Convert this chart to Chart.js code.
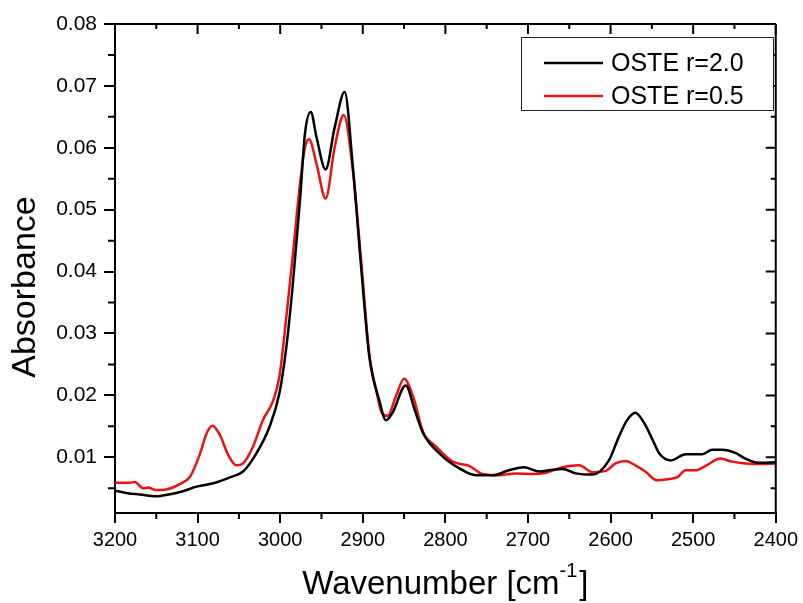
<!DOCTYPE html>
<html>
<head>
<meta charset="utf-8">
<script src="https://cdn.jsdelivr.net/npm/chart.js@4.4.1/dist/chart.umd.min.js"></script>
<style>
  html, body { margin: 0; padding: 0; background: #fff; }
  #wrap { width: 803px; height: 603px; }
</style>
</head>
<body>
<div id="wrap"><canvas id="c" width="803" height="603"></canvas></div>
<script>
// ---- data ----
const seriesLabels = ['OSTE r=2.0', 'OSTE r=0.5'];

const blackX = [3200, 3185, 3170, 3150, 3135, 3121, 3100, 3081, 3060, 3045, 3029, 3013, 3001, 2993, 2985, 2976, 2970, 2963, 2956, 2945, 2934, 2922, 2912, 2902, 2892, 2880, 2872, 2864, 2848, 2837, 2827, 2807, 2783, 2763, 2743, 2723, 2705, 2686, 2670, 2658, 2642, 2622, 2602, 2590, 2580, 2570, 2560, 2549, 2541, 2527, 2509, 2489, 2477, 2465, 2449, 2437, 2421, 2400];
const blackY = [0.0046, 0.0042, 0.0040, 0.0037, 0.0040, 0.0044, 0.0053, 0.0058, 0.0068, 0.0077, 0.0106, 0.0149, 0.0203, 0.0273, 0.0375, 0.0515, 0.0623, 0.0658, 0.0617, 0.0565, 0.0633, 0.0690, 0.0569, 0.0407, 0.0262, 0.0192, 0.0160, 0.0172, 0.0216, 0.0176, 0.0139, 0.0106, 0.0082, 0.0071, 0.0071, 0.0079, 0.0084, 0.0077, 0.0080, 0.0081, 0.0074, 0.0072, 0.0095, 0.0133, 0.0160, 0.0172, 0.0157, 0.0128, 0.0106, 0.0095, 0.0105, 0.0105, 0.0112, 0.0112, 0.0107, 0.0098, 0.0091, 0.0092];

const redX = [3200, 3182, 3176, 3166, 3160, 3150, 3138, 3121, 3109, 3097, 3089, 3082, 3073, 3063, 3053, 3045, 3033, 3021, 3009, 3001, 2993, 2985, 2976, 2970, 2965, 2956, 2945, 2934, 2923, 2912, 2902, 2892, 2884, 2877, 2870, 2860, 2850, 2839, 2827, 2811, 2791, 2771, 2755, 2735, 2715, 2694, 2678, 2658, 2638, 2622, 2606, 2594, 2582, 2570, 2558, 2544, 2529, 2519, 2509, 2497, 2485, 2467, 2453, 2437, 2417, 2400];
const redY = [0.0059, 0.0059, 0.0060, 0.0050, 0.0051, 0.0047, 0.0048, 0.0057, 0.0069, 0.0106, 0.0139, 0.0151, 0.0136, 0.0104, 0.0087, 0.0090, 0.0117, 0.0160, 0.0190, 0.0230, 0.0321, 0.0423, 0.0542, 0.0601, 0.0614, 0.0574, 0.0518, 0.0601, 0.0653, 0.0563, 0.0418, 0.0265, 0.0210, 0.0172, 0.0167, 0.0198, 0.0227, 0.0198, 0.0141, 0.0117, 0.0093, 0.0086, 0.0073, 0.0071, 0.0074, 0.0073, 0.0075, 0.0084, 0.0087, 0.0076, 0.0078, 0.0090, 0.0094, 0.0087, 0.0077, 0.0063, 0.0065, 0.0068, 0.0079, 0.0079, 0.0086, 0.0098, 0.0093, 0.0090, 0.0089, 0.0090];

const yTickValues = [0.01, 0.02, 0.03, 0.04, 0.05, 0.06, 0.07, 0.08];
const yMinorValues = [0.005, 0.015, 0.025, 0.035, 0.045, 0.055, 0.065, 0.075];
const xTickValues = [3200, 3100, 3000, 2900, 2800, 2700, 2600, 2500, 2400];
const xMinorValues = [3150, 3050, 2950, 2850, 2750, 2650, 2550, 2450];
const xTitleMain = 'Wavenumber [cm';
const xTitleSup = '-1';
const xTitleEnd = ']';
const yTitle = 'Absorbance';

const FONT = '"Liberation Sans", Arial, sans-serif';

const toPts = (xs, ys) => xs.map((x, i) => ({ x: x, y: ys[i] }));

const frame = {
  id: 'frame',
  afterDraw(chart) {
    const ctx = chart.ctx;
    const a = chart.chartArea;
    const xs = chart.scales.x, ys = chart.scales.y;
    ctx.save();
    ctx.strokeStyle = '#000';
    ctx.lineWidth = 2;
    ctx.lineCap = 'butt';
    // top and right frame lines
    ctx.beginPath();
    ctx.moveTo(a.left - 1, a.top); ctx.lineTo(a.right, a.top);
    ctx.moveTo(a.right, a.top); ctx.lineTo(a.right, a.bottom + 1);
    ctx.stroke();
    ctx.beginPath();
    // top inward major ticks
    xTickValues.forEach(v => { const p = xs.getPixelForValue(v); ctx.moveTo(p, a.top); ctx.lineTo(p, a.top + 10); });
    // minor x ticks: bottom outward, top inward
    xMinorValues.forEach(v => {
      const p = xs.getPixelForValue(v);
      ctx.moveTo(p, a.bottom); ctx.lineTo(p, a.bottom + 6);
      ctx.moveTo(p, a.top); ctx.lineTo(p, a.top + 5);
    });
    // right inward major ticks
    yTickValues.forEach(v => { const p = ys.getPixelForValue(v); ctx.moveTo(a.right, p); ctx.lineTo(a.right - 10, p); });
    // minor y ticks: left outward, right inward
    yMinorValues.forEach(v => {
      const p = ys.getPixelForValue(v);
      ctx.moveTo(a.left, p); ctx.lineTo(a.left - 7, p);
      ctx.moveTo(a.right, p); ctx.lineTo(a.right - 5, p);
    });
    ctx.stroke();

    // legend box
    const lx = 521, ly = 37, lw = 252, lh = 73;
    ctx.fillStyle = '#fff';
    ctx.fillRect(lx, ly, lw, lh);
    ctx.lineWidth = 1;
    ctx.strokeStyle = '#222';
    ctx.strokeRect(lx + 0.5, ly + 0.5, lw, lh);
    ctx.font = '25px ' + FONT;
    ctx.textAlign = 'left';
    ctx.textBaseline = 'middle';
    chart.data.datasets.forEach((ds, i) => {
      const yy = 63 + i * 33;
      ctx.strokeStyle = ds.borderColor;
      ctx.lineWidth = 2.5;
      ctx.beginPath(); ctx.moveTo(544, yy); ctx.lineTo(603, yy); ctx.stroke();
      ctx.fillStyle = '#000';
      ctx.fillText(ds.label, 611, yy + 1);
    });

    // axis titles
    ctx.fillStyle = '#000';
    ctx.textBaseline = 'alphabetic';
    ctx.font = '33px ' + FONT;
    const wMain = ctx.measureText(xTitleMain).width;
    ctx.font = '20px ' + FONT;
    const wSup = ctx.measureText(xTitleSup).width;
    ctx.font = '33px ' + FONT;
    const wEnd = ctx.measureText(xTitleEnd).width;
    const total = wMain + wSup + 2 + wEnd;
    let tx = (a.left + a.right) / 2 - total / 2;
    const base = 594;
    ctx.textAlign = 'left';
    ctx.fillText(xTitleMain, tx, base);
    tx += wMain;
    ctx.font = '20px ' + FONT;
    ctx.fillText(xTitleSup, tx, base - 17);
    tx += wSup + 2;
    ctx.font = '33px ' + FONT;
    ctx.fillText(xTitleEnd, tx, base);

    ctx.save();
    ctx.translate(35, 287);
    ctx.rotate(-Math.PI / 2);
    ctx.textAlign = 'center';
    ctx.font = '34px ' + FONT;
    ctx.fillText(yTitle, 0, 0);
    ctx.restore();

    ctx.restore();
  }
};

new Chart(document.getElementById('c'), {
  type: 'line',
  data: {
    datasets: [
      { label: seriesLabels[0], data: toPts(blackX, blackY), borderColor: '#000000', borderWidth: 2.5, pointRadius: 0, cubicInterpolationMode: 'monotone', fill: false },
      { label: seriesLabels[1], data: toPts(redX, redY), borderColor: '#ee1111', borderWidth: 2.5, pointRadius: 0, cubicInterpolationMode: 'monotone', fill: false }
    ]
  },
  options: {
    responsive: false,
    animation: false,
    devicePixelRatio: 1,
    layout: { padding: { left: 0, right: 26, top: 24, bottom: 0 } },
    plugins: { legend: { display: false }, tooltip: { enabled: false }, title: { display: false } },
    scales: {
      x: {
        type: 'linear',
        reverse: true,
        min: 2400, max: 3200,
        afterBuildTicks: s => { s.ticks = xTickValues.map(v => ({ value: v })); },
        afterFit: s => { s.height = 90; },
        ticks: { callback: v => String(v), color: '#000', font: { family: FONT, size: 20 }, padding: 5, maxRotation: 0, autoSkip: false },
        grid: { drawOnChartArea: false, drawTicks: true, tickLength: 10, color: '#000', lineWidth: 2 },
        border: { display: true, color: '#000', width: 2 },
        title: { display: false }
      },
      y: {
        min: 0.001, max: 0.08,
        afterBuildTicks: s => { s.ticks = yTickValues.map(v => ({ value: v })); },
        afterFit: s => { s.width = 115; },
        ticks: { callback: v => v.toFixed(2), color: '#000', font: { family: FONT, size: 21 }, padding: 7, autoSkip: false },
        grid: { drawOnChartArea: false, drawTicks: true, tickLength: 11, color: '#000', lineWidth: 2 },
        border: { display: true, color: '#000', width: 2 },
        title: { display: false }
      }
    }
  },
  plugins: [frame]
});
</script>
</body>
</html>
